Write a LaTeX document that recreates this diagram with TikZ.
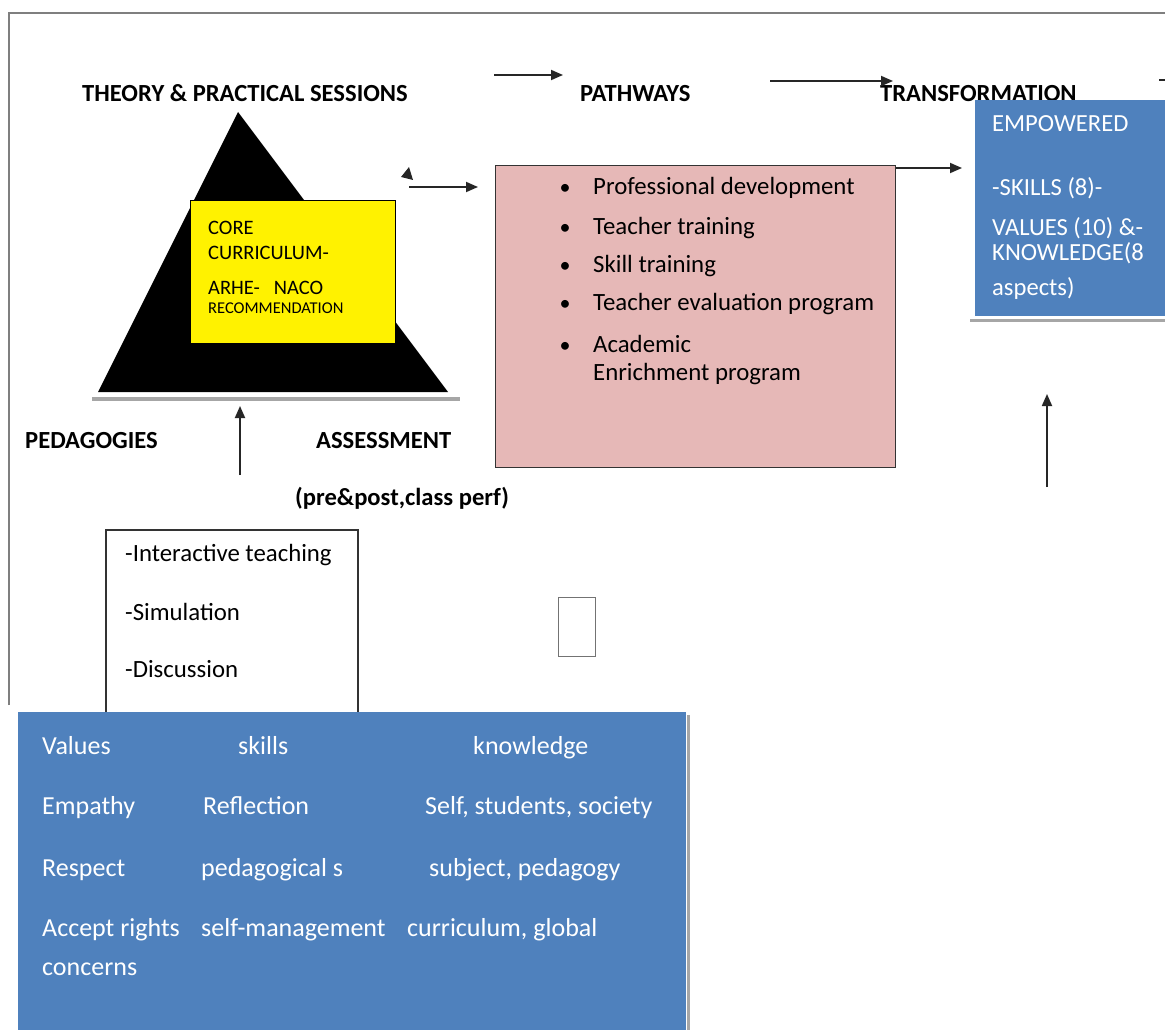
\documentclass[tikz,border=0pt]{standalone}
\usepackage{fontspec}
\setmainfont{Carlito}
\usetikzlibrary{arrows.meta}
\definecolor{pinkfill}{HTML}{E6B8B7}
\definecolor{bluefill}{HTML}{4F81BD}
\definecolor{framegray}{HTML}{7F7F7F}
\definecolor{shadowgray}{HTML}{A6A6A6}
\begin{document}
\begin{tikzpicture}[x=1pt,y=-1pt,
  txt/.style={anchor=base west, inner sep=0pt, font=\fontsize{24.8}{28}\selectfont},
  head/.style={anchor=base west, inner sep=0pt, font=\bfseries\fontsize{24.6}{28}\selectfont},
  ytxt/.style={anchor=base west, inner sep=0pt, font=\fontsize{20.5}{24}\selectfont},
  wtxt/.style={anchor=base west, inner sep=0pt, text=white, font=\fontsize{24.6}{28}\selectfont},
  btxt/.style={anchor=base west, inner sep=0pt, text=white, font=\fontsize{26}{30}\selectfont},
  bul/.style={anchor=base, inner sep=0pt, font=\fontsize{22}{26}\selectfont},
  arr/.style={-{Triangle[length=12pt,width=10pt]}, line width=1.8pt, black!85}]
\useasboundingbox (0,0) rectangle (1165,1030);
\fill[white] (0,0) rectangle (1165,1030);

% outer frame (top and left edges)
\draw[framegray, line width=2pt] (9,705) -- (9,13) -- (1165,13);

% headings
\node[head] (theory) at (82,102) {THEORY \& PRACTICAL SESSIONS};
\node[head] (pathways) at (580,102) {PATHWAYS};
\node[head] (transf) at (880,102) {TRANSFORMATION};

% top arrows
\coordinate (a1s) at (494,75); \coordinate (a1e) at (563,75);
\draw[arr] (a1s) -- (a1e);
\coordinate (a2s) at (770,81); \coordinate (a2e) at (893,81);
\draw[arr] (a2s) -- (a2e);
\coordinate (a3s) at (1159,80); \coordinate (a3e) at (1165,80);
\draw[line width=1.8pt, black!85] (a3s) -- (a3e);

% triangle
\coordinate (tapex) at (238,112);
\coordinate (tleft) at (98,392);
\coordinate (tright) at (448,392);
\fill[black] (tapex) -- (tleft) -- (tright) -- cycle;
\draw[shadowgray, line width=3.5pt] (92,399) -- (460,399);

% yellow box
\node[draw=black, line width=0.8pt, fill=yellow, minimum width=205pt, minimum height=143pt, anchor=north west, inner sep=0pt] (core) at (190,200) {};
\node[ytxt] (core1) at (208,234) {CORE};
\node[ytxt] (core2) at (208,259) {CURRICULUM-};
\node[ytxt] (core3) at (208,294) {ARHE-\hspace{14pt}NACO};
\node[anchor=base west, inner sep=0pt, font=\fontsize{16.5}{19}\selectfont] (core4) at (208,313) {RECOMMENDATION};

% small stray arrowhead
\fill[black!85] (409,167) -- (401,177) -- (413,180) -- cycle;

% arrow to pink box
\coordinate (a4s) at (409,187);
\draw[arr] (a4s) -- (478,187);

% pink box
\node[draw=black!80, line width=1.3pt, fill=pinkfill, minimum width=400pt, minimum height=302pt, anchor=north west, inner sep=0pt] (path) at (495,165) {};
\node[bul] (b1) at (565,194) {\textbullet};
\node[txt] (p1) at (593,194) {Professional development};
\node[bul] (b2) at (565,234) {\textbullet};
\node[txt] (p2) at (593,234) {Teacher training};
\node[bul] (b3) at (565,272) {\textbullet};
\node[txt] (p3) at (593,272) {Skill training};
\node[bul] (b4) at (565,310) {\textbullet};
\node[txt] (p4) at (593,310) {Teacher evaluation program};
\node[bul] (b5) at (565,352) {\textbullet};
\node[txt] (p5) at (593,352) {Academic};
\node[txt] (p6) at (593,380) {Enrichment program};

% arrow pink -> blue
\coordinate (a5e) at (962,168);
\draw[arr] (path.north east) ++(0,3) -- (a5e);

% empowered blue box
\node[fill=bluefill, minimum width=195pt, minimum height=216pt, anchor=north west, inner sep=0pt] (emp) at (975,100) {};
\draw[shadowgray, line width=3pt] (970,320) -- (1165,320);
\node[wtxt] (e1) at (992,132) {EMPOWERED};
\node[wtxt] (e2) at (992,195) {-SKILLS (8)-};
\node[wtxt] (e3) at (992,235) {VALUES (10) \&-};
\node[wtxt] (e4) at (992,260) {KNOWLEDGE(8};
\node[wtxt] (e5) at (992,295) {aspects)};

% up arrow to empowered
\coordinate (a6s) at (1047,487); \coordinate (a6e) at (1047,394);
\draw[arr] (a6s) -- (a6e);

% labels under triangle
\node[head] (ped) at (25,448) {PEDAGOGIES};
\node[head] (ass) at (316,448) {ASSESSMENT};
\node[head] (prepost) at (295,505) {(pre\&post,class perf)};

% up arrow to triangle
\coordinate (a7s) at (240,475); \coordinate (a7e) at (240,406);
\draw[arr] (a7s) -- (a7e);

% pedagogies box
\draw[black!80, line width=1.3pt] (106,712) -- (106,530) -- (358,530) -- (358,712);
\node[txt] (m1) at (125,561) {-Interactive teaching};
\node[txt] (m2) at (125,620) {-Simulation};
\node[txt] (m3) at (125,677) {-Discussion};

% small empty box
\node[draw=black!55, line width=1.2pt, minimum width=37pt, minimum height=59pt, anchor=north west, inner sep=0pt] (empty) at (558,597) {};

% bottom blue box
\node[fill=bluefill, minimum width=668pt, minimum height=320pt, anchor=north west, inner sep=0pt] (vsk) at (18,712) {};
\draw[shadowgray, line width=3pt] (688,715) -- (688,1030);
\node[btxt] (r11) at (42,754) {Values};
\node[btxt] (r12) at (238,754) {skills};
\node[btxt] (r13) at (473,754) {knowledge};
\node[btxt] (r21) at (42,814) {Empathy};
\node[btxt] (r22) at (203,814) {Reflection};
\node[btxt] (r23) at (425,814) {Self, students, society};
\node[btxt] (r31) at (42,876) {Respect};
\node[btxt] (r32) at (201,876) {pedagogical s};
\node[btxt] (r33) at (429,876) {subject, pedagogy};
\node[btxt] (r41) at (42,936) {Accept rights};
\node[btxt] (r42) at (201,936) {self-management};
\node[btxt] (r43) at (407,936) {curriculum, global};
\node[btxt] (r51) at (42,975) {concerns};
\end{tikzpicture}
\end{document}
